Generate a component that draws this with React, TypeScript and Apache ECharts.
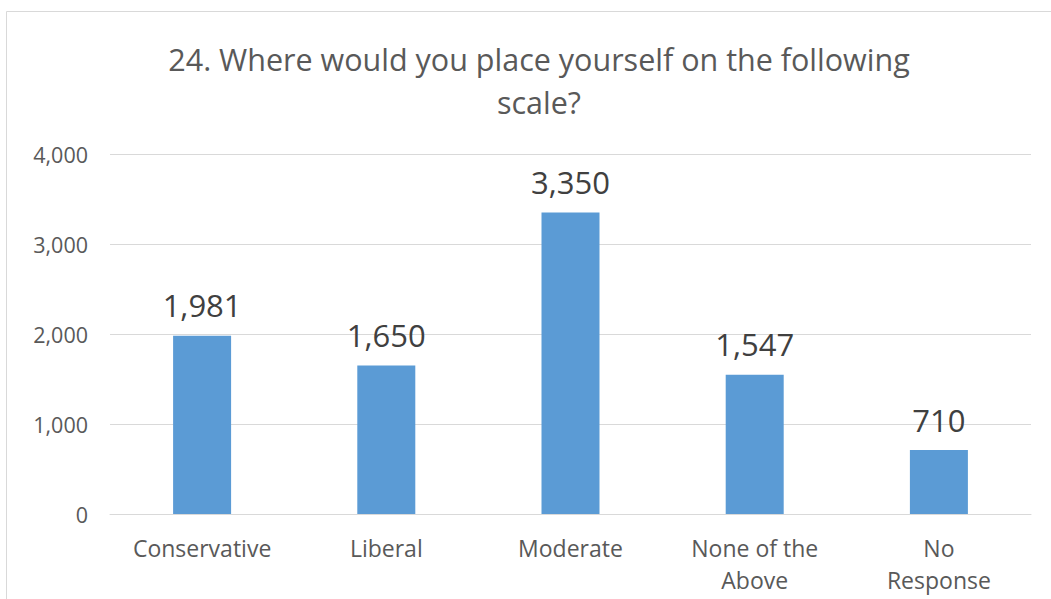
import React, { useEffect, useRef } from "react";
import * as echarts from "echarts";

const categories = ["Conservative", "Liberal", "Moderate", "None of the\nAbove", "No\nResponse"];
const values = [1981, 1650, 3350, 1547, 710];
const titleText = "24. Where would you place yourself on the following\nscale?";

export default function App() {
  const ref = useRef<HTMLDivElement>(null);
  useEffect(() => {
    document.body.style.margin = "0";
    const chart = echarts.init(ref.current!, null, { renderer: "svg" });
    const font = "Open Sans";
    chart.setOption({
      animation: false,
      backgroundColor: "#ffffff",
      title: {
        text: titleText,
        left: 534,
        textAlign: "center",
        top: 32,
        textStyle: { fontFamily: font, fontSize: 30.5, fontWeight: "normal", color: "#595959", lineHeight: 43, align: "center" },
      },
      graphic: [
        {
          type: "rect",
          shape: { x: 6.5, y: 11.5, width: 1060, height: 600 },
          style: { fill: "none", stroke: "#d9d9d9", lineWidth: 1 },
          silent: true,
        },
      ],
      grid: { left: 110, right: 20, top: 154, bottom: 85, containLabel: false },
      xAxis: {
        type: "category",
        data: categories,
        axisLine: { show: true, lineStyle: { color: "#d9d9d9", width: 1 } },
        axisTick: { show: false },
        axisLabel: { fontFamily: font, fontSize: 23, color: "#595959", margin: 18, lineHeight: 32, interval: 0 },
      },
      yAxis: {
        type: "value",
        min: 0,
        max: 4000,
        interval: 1000,
        axisLine: { show: false },
        axisTick: { show: false },
        splitLine: { lineStyle: { color: "#d9d9d9", width: 1 } },
        axisLabel: {
          fontFamily: font,
          fontSize: 21.5,
          color: "#595959",
          margin: 22,
          formatter: (v: number) => v.toLocaleString("en-US"),
        },
      },
      series: [
        {
          type: "bar",
          data: values,
          barWidth: 58,
          itemStyle: { color: "#5b9bd5" },
          label: {
            show: true,
            position: "top",
            distance: 15,
            fontFamily: font,
            fontSize: 31,
            color: "#404040",
            formatter: (p: any) => Number(p.value).toLocaleString("en-US"),
          },
        },
      ],
    });
    return () => chart.dispose();
  }, []);
  return <div ref={ref} style={{ width: 1051, height: 599 }} />;
}
